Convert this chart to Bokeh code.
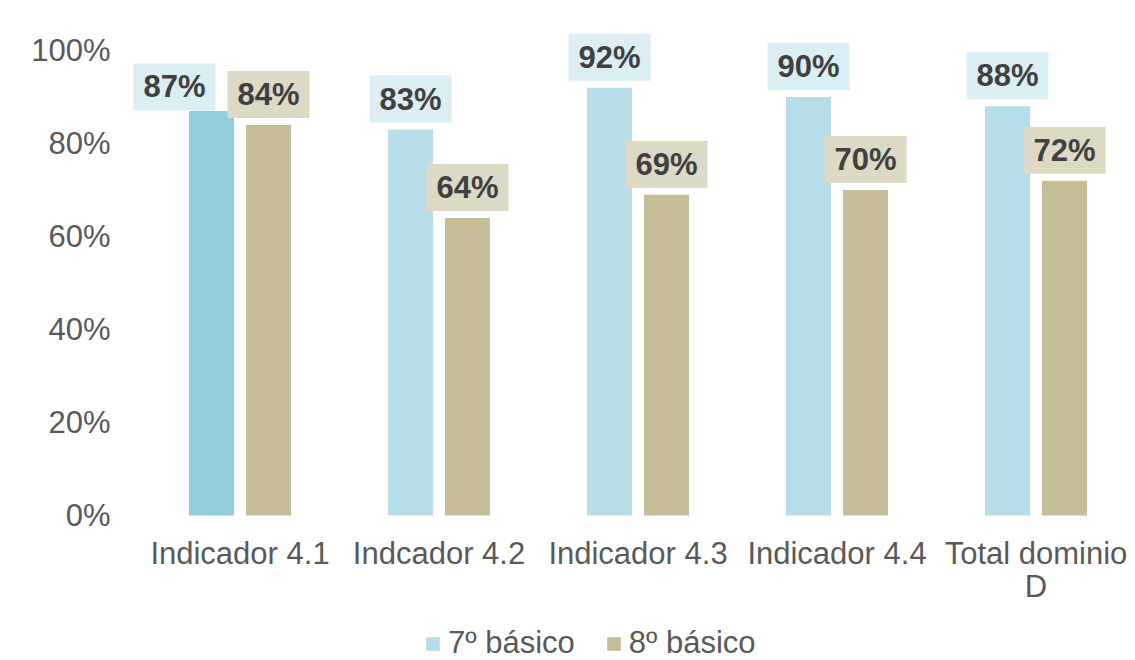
from bokeh.plotting import figure
from bokeh.models import (ColumnDataSource, Range1d, FixedTicker,
                          NumeralTickFormatter, Legend, LegendItem)
from bokeh.transform import dodge
from bokeh.core.properties import value
from bokeh.embed import file_html
from bokeh.resources import INLINE

# ---------------- data ----------------
categories = ["Indicador 4.1", "Indcador 4.2", "Indicador 4.3", "Indicador 4.4", "Total dominio\nD"]
series_names = ["7º básico", "8º básico"]
values_7 = [0.87, 0.83, 0.92, 0.90, 0.88]
values_8 = [0.84, 0.64, 0.69, 0.70, 0.72]
y_ticks = [0, 0.2, 0.4, 0.6, 0.8, 1.0]

# ---------------- styles ----------------
FONT = "Liberation Sans"
FS = "31px"
bar_colors_7 = ["#92CDDC", "#B7DDE8", "#B7DDE8", "#B7DDE8", "#B7DDE8"]
bar_color_8 = "#C4BD97"
label_bg_7 = "#DAEEF3"
label_bg_8 = "#DDD9C4"
label_dx_7 = [-37, 0, 0, 0, 0]
label_dy_7 = [-24, -30.5, -30.5, -30.5, -30.5]
label_dy_8 = [-30.5, -30.5, -30.5, -30.5, -30.5]

n = len(categories)
src = ColumnDataSource(dict(
    pos=list(range(n)),          # category index on the x scale
    catlab=categories,
    zero=[0] * n,
    v7=values_7,
    v8=values_8,
    c7=bar_colors_7,
    lab7=[f"{round(v * 100)}%" for v in values_7],
    lab8=[f"{round(v * 100)}%" for v in values_8],
    dx7=label_dx_7,
    dy7=label_dy_7,
    dy8=label_dy_8,
))

W, H = 1135, 660
top_px, zero_px, hundred_px = 5, 515, 50
left_px, first_center_px, cat_px = 125, 239.5, 199.0
ppu = zero_px - hundred_px
y_start = -(H - zero_px) / ppu
y_end = 1 + (hundred_px - top_px) / ppu
x_start = -(first_center_px - left_px) / cat_px
x_end = x_start + (W - left_px) / cat_px

p = figure(x_range=Range1d(x_start, x_end), y_range=Range1d(y_start, y_end),
           width=W, height=H, output_backend="svg", toolbar_location=None,
           min_border_left=left_px, min_border_right=0, min_border_top=top_px,
           min_border_bottom=0)
p.outline_line_color = None
p.xgrid.grid_line_color = None
p.ygrid.grid_line_color = None
p.background_fill_color = "white"
p.border_fill_color = "white"
p.xaxis.visible = False

off = 0.1432
bw = 0.226
r7 = p.vbar(x=dodge("pos", -off), top="v7", bottom=0, width=bw, source=src,
            fill_color="c7", line_color=None)
r8 = p.vbar(x=dodge("pos", off), top="v8", bottom=0, width=bw, source=src,
            fill_color=bar_color_8, line_color=None)

common = dict(text_align="center", text_baseline="middle", text_font=value(FONT),
              text_font_style="bold", text_font_size=FS, text_color="#404040",
              padding=(10, 6))
p.text(x=dodge("pos", -off), y="v7", text="lab7", source=src,
       x_offset="dx7", y_offset="dy7", background_fill_color=label_bg_7, **common)
p.text(x=dodge("pos", off), y="v8", text="lab8", source=src,
       y_offset="dy8", background_fill_color=label_bg_8, **common)

# category labels (x axis)
p.text(x="pos", y="zero", text="catlab", source=src, y_offset=20,
       text_align="center", text_baseline="top", text_font=value(FONT),
       text_font_size=FS, text_color="#595959", text_line_height=0.97)

# y axis
p.yaxis.ticker = FixedTicker(ticks=y_ticks)
p.yaxis.formatter = NumeralTickFormatter(format="0%")
ax = p.yaxis[0]
ax.axis_line_color = None
ax.major_tick_line_color = None
ax.minor_tick_line_color = None
ax.major_tick_out = 0
ax.major_tick_in = 0
ax.major_label_text_font = FONT
ax.major_label_text_font_size = FS
ax.major_label_text_color = "#595959"
ax.major_label_standoff = left_px - 110

legend = Legend(items=[LegendItem(label=series_names[0], renderers=[r7], index=1),
                       LegendItem(label=series_names[1], renderers=[r8], index=1)],
                location=(424 - left_px, -1), orientation="horizontal", padding=0, margin=0,
                spacing=30, label_standoff=7, glyph_width=17, glyph_height=17,
                label_text_font=FONT, label_text_font_size=FS,
                label_text_color="#595959", border_line_color=None,
                background_fill_alpha=0)
p.add_layout(legend)

open("out.html", "w").write(file_html(p, INLINE))
